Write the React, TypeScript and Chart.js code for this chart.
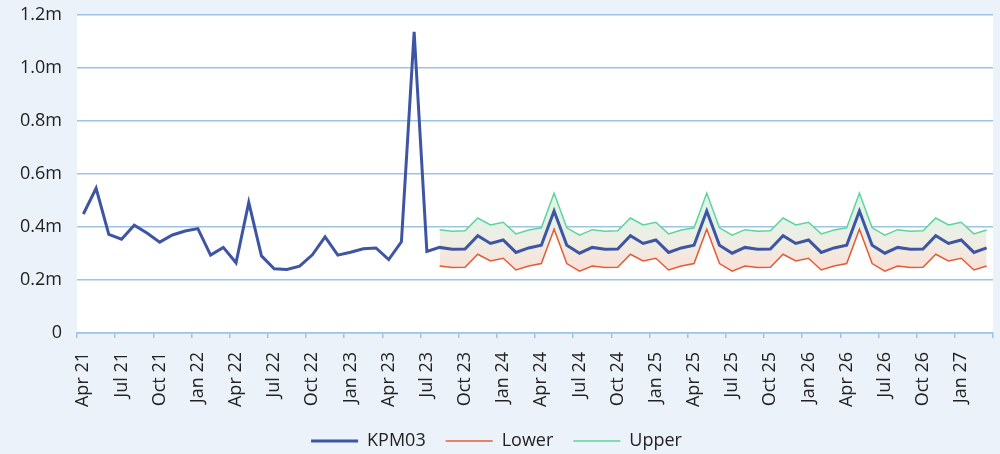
import React, { useEffect, useRef } from "react";
import { Chart, registerables } from "chart.js";

Chart.register(...registerables);

const FONT = "'Open Sans', sans-serif";
const TEXT_COLOR = "#222222";
const GRID_COLOR = "#9DC3E6";
const BG_COLOR = "#ECF2F9";

const MONTHS: string[] = [
  "Apr 21", "May 21", "Jun 21", "Jul 21", "Aug 21", "Sep 21", "Oct 21", "Nov 21", "Dec 21",
  "Jan 22", "Feb 22", "Mar 22", "Apr 22", "May 22", "Jun 22", "Jul 22", "Aug 22", "Sep 22", "Oct 22", "Nov 22", "Dec 22",
  "Jan 23", "Feb 23", "Mar 23", "Apr 23", "May 23", "Jun 23", "Jul 23", "Aug 23", "Sep 23", "Oct 23", "Nov 23", "Dec 23",
  "Jan 24", "Feb 24", "Mar 24", "Apr 24", "May 24", "Jun 24", "Jul 24", "Aug 24", "Sep 24", "Oct 24", "Nov 24", "Dec 24",
  "Jan 25", "Feb 25", "Mar 25", "Apr 25", "May 25", "Jun 25", "Jul 25", "Aug 25", "Sep 25", "Oct 25", "Nov 25", "Dec 25",
  "Jan 26", "Feb 26", "Mar 26", "Apr 26", "May 26", "Jun 26", "Jul 26", "Aug 26", "Sep 26", "Oct 26", "Nov 26", "Dec 26",
  "Jan 27", "Feb 27", "Mar 27",
];

const KPM03: (number | null)[] = [
  449000, 546000, 372000, 354000, 407000, 377000, 343000, 370000, 385000, 394000, 294000, 323000,
  265000, 493000, 291000, 242000, 240000, 252000, 295000, 363000, 294000, 305000, 318000, 321000,
  277000, 344000, 1136000, 308000,
  323000, 316000, 317000, 367000, 338000, 351000, 304000, 321000, 331000, 460000, 331000, 301000,
  323000, 316000, 317000, 367000, 338000, 351000, 304000, 321000, 331000, 460000, 331000, 301000,
  323000, 316000, 317000, 367000, 338000, 351000, 304000, 321000, 331000, 460000, 331000, 301000,
  323000, 316000, 317000, 367000, 338000, 351000, 304000, 321000,
];

const LOWER: (number | null)[] = [
  null, null, null, null, null, null, null, null, null, null, null, null,
  null, null, null, null, null, null, null, null, null, null, null, null,
  null, null, null, null,
  253000, 247000, 248000, 297000, 272000, 282000, 238000, 253000, 262000, 392000, 262000, 233000,
  253000, 247000, 248000, 297000, 272000, 282000, 238000, 253000, 262000, 392000, 262000, 233000,
  253000, 247000, 248000, 297000, 272000, 282000, 238000, 253000, 262000, 392000, 262000, 233000,
  253000, 247000, 248000, 297000, 272000, 282000, 238000, 253000,
];

const UPPER: (number | null)[] = [
  null, null, null, null, null, null, null, null, null, null, null, null,
  null, null, null, null, null, null, null, null, null, null, null, null,
  null, null, null, null,
  390000, 384000, 386000, 434000, 408000, 418000, 374000, 389000, 397000, 528000, 397000, 369000,
  390000, 384000, 386000, 434000, 408000, 418000, 374000, 389000, 397000, 528000, 397000, 369000,
  390000, 384000, 386000, 434000, 408000, 418000, 374000, 389000, 397000, 528000, 397000, 369000,
  390000, 384000, 386000, 434000, 408000, 418000, 374000, 389000,
];

const Y_TICK_STEP = 200000;
const Y_MAX = 1200000;

const whiteArea = {
  id: "whiteArea",
  beforeDraw(chart: any) {
    const { ctx, chartArea } = chart;
    if (!chartArea) return;
    ctx.save();
    ctx.fillStyle = "#ffffff";
    ctx.fillRect(chartArea.left, chartArea.top, chartArea.right - chartArea.left, chartArea.bottom - chartArea.top);
    ctx.restore();
  },
};

export default function App() {
  const ref = useRef<HTMLCanvasElement | null>(null);

  useEffect(() => {
    if (!ref.current) return;
    const lineWidths = [3, 1.5, 1.5];
    const chart = new Chart(ref.current, {
      type: "line",
      data: {
        labels: MONTHS,
        datasets: [
          {
            label: "KPM03",
            data: KPM03,
            borderColor: "#3E55A3",
            backgroundColor: "#3E55A3",
            borderWidth: 3,
            pointRadius: 0,
            tension: 0,
            fill: false,
          },
          {
            label: "Lower",
            data: LOWER,
            borderColor: "#E35C37",
            backgroundColor: "#E35C37",
            borderWidth: 1.5,
            pointRadius: 0,
            tension: 0,
            fill: false,
          },
          {
            label: "Upper",
            data: UPPER,
            borderColor: "#5DD39E",
            borderWidth: 1.5,
            pointRadius: 0,
            tension: 0,
            fill: "-1",
            backgroundColor: (c: any) => {
              const ch = c.chart;
              const { ctx, chartArea, scales } = ch;
              if (!chartArea || !scales || !scales.y) return "rgba(240,235,225,1)";
              const g = ctx.createLinearGradient(0, scales.y.getPixelForValue(440000), 0, scales.y.getPixelForValue(240000));
              g.addColorStop(0, "rgba(226,243,232,1)");
              g.addColorStop(0.45, "rgba(238,238,228,1)");
              g.addColorStop(1, "rgba(250,225,216,1)");
              return g;
            },
          },
        ],
      },
      options: {
        animation: false,
        responsive: false,
        maintainAspectRatio: false,
        layout: { padding: { top: 15, right: 7, left: 0, bottom: 0 } },
        plugins: {
          tooltip: { enabled: false },
          legend: {
            position: "bottom",
            maxHeight: 42,
            labels: {
              usePointStyle: true,
              pointStyleWidth: 47,
              padding: 20,
              color: TEXT_COLOR,
              font: { family: FONT, size: 18 },
              generateLabels: (ch: any) =>
                ch.data.datasets.map((ds: any, i: number) => ({
                  text: ds.label,
                  fillStyle: ds.borderColor,
                  strokeStyle: ds.borderColor,
                  lineWidth: lineWidths[i],
                  pointStyle: "line",
                  hidden: false,
                  datasetIndex: i,
                  fontColor: TEXT_COLOR,
                })),
            },
          },
        },
        scales: {
          x: {
            offset: true,
            grid: {
              offset: true,
              drawOnChartArea: false,
              drawTicks: true,
              tickLength: 5,
              lineWidth: 1.5,
              color: (c: any) => (c.type !== "tick" || c.index % 3 === 0 ? GRID_COLOR : "rgba(0,0,0,0)"),
            },
            border: { display: true, color: GRID_COLOR, width: 1.5 },
            ticks: {
              autoSkip: false,
              minRotation: 90,
              maxRotation: 90,
              padding: 14,
              color: TEXT_COLOR,
              font: { family: FONT, size: 18 },
              callback: (_v: any, i: number) => (i % 3 === 0 ? MONTHS[i] : ""),
            },
            afterFit: (s: any) => {
              s.height = 79;
              s.paddingLeft = 0;
              s.paddingRight = 0;
            },
          },
          y: {
            min: 0,
            max: Y_MAX,
            border: { display: false },
            grid: { color: GRID_COLOR, lineWidth: 1.5, drawTicks: false },
            ticks: {
              stepSize: Y_TICK_STEP,
              padding: 15,
              color: TEXT_COLOR,
              font: { family: FONT, size: 18 },
              callback: (v: any) => (Number(v) === 0 ? "0" : (Number(v) / 1000000).toFixed(1) + "m"),
            },
            afterFit: (s: any) => {
              s.width = 77;
              s.paddingTop = 0;
              s.paddingBottom = 0;
            },
          },
        },
      },
      plugins: [whiteArea],
    });
    return () => chart.destroy();
  }, []);

  return (
    <div style={{ position: "fixed", left: 0, top: 0, width: 1000, height: 454, background: BG_COLOR }}>
      <canvas ref={ref} width={1000} height={454} style={{ display: "block", width: 1000, height: 454 }} />
    </div>
  );
}
